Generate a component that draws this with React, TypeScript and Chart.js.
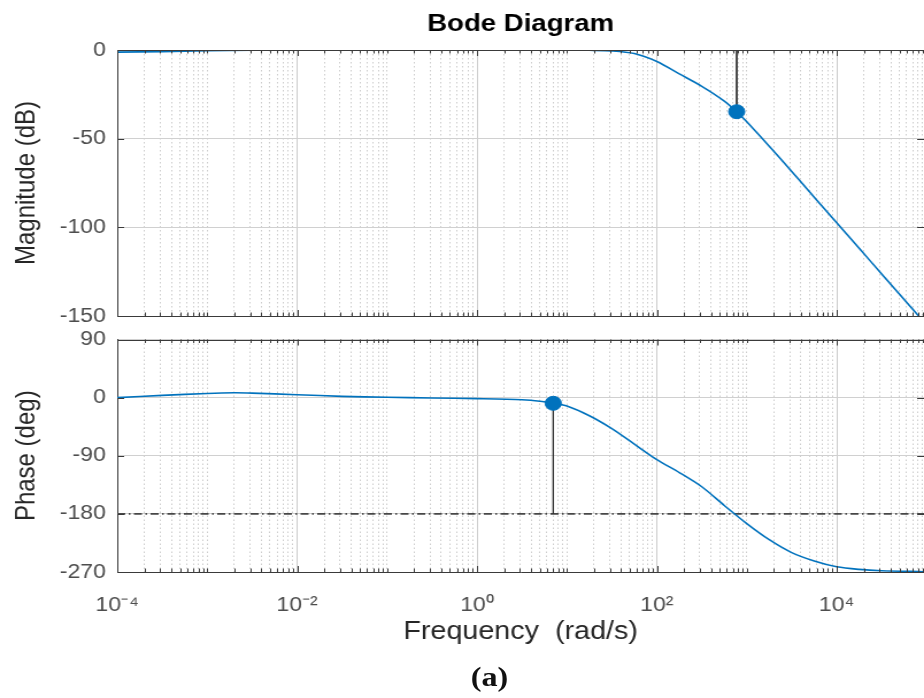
import React, { useEffect, useRef } from 'react';
import { Chart, registerables } from 'chart.js';

Chart.register(...registerables);

// ---------- data ----------
const FREQ_MIN = 1e-4;
const FREQ_MAX = 93500;

// magnitude curve: log10(frequency) and dB
const magLogFreq = [-4, -3.5, -3, -2.5, -2, -1, 0, 1, 1.25, 1.5, 1.75, 2.0, 2.25, 2.5, 2.75, 2.888, 3.0, 3.25, 3.5, 3.75, 4.0, 4.25, 4.5, 4.75, 4.97];
const magDb = [-1.2, -0.9, -0.4, -0.1, 0, 0, 0, -0.05, -0.15, -0.5, -2.0, -6.5, -13.5, -20.5, -28.8, -34.8, -40.5, -54.3, -68.5, -83, -97.4, -111.8, -126.3, -140.7, -153.4];

// phase curve: log10(frequency) and degrees
const phaseLogFreq = [-4, -3.5, -3, -2.7, -2.5, -2, -1.5, -1, -0.5, 0, 0.5, 0.7, 0.848, 1.0, 1.25, 1.5, 1.75, 2.0, 2.25, 2.5, 2.75, 3.0, 3.25, 3.5, 3.75, 4.0, 4.25, 4.5, 4.97];
const phaseDeg = [0, 3.5, 6.5, 7.5, 7, 4.5, 2, 0.5, -0.5, -1.5, -3.2, -5.5, -8.8, -13, -28, -48, -72, -96, -116, -138, -167, -195, -220, -240, -253, -262, -266, -268, -269.5];

// margin markers
const gainMarginFreq = [773];
const gainMarginMag = [-34.8];
const phaseMarginFreq = [7.05];
const phaseMarginDeg = [-8.8];
const phaseCrossLevel = [-180];

// ticks
const magTicks = [-150, -100, -50, 0];
const phaseTicks = [-270, -180, -90, 0, 90];
const xTickExponents = [-4, -2, 0, 2, 4];
const xTickLabels = ['10\u207B\u2074', '10\u207B\u00B2', '10\u2070', '10\u00B2', '10\u2074'];

// ---------- layout ----------
const W = 804;
const STRETCH = 924 / W;
const PLOT_LEFT = 102;
const FONT = '"Liberation Sans", Arial, Helvetica, sans-serif';
const BLUE = '#0072BD';
const AXIS = '#3a3a3a';
const TICK_COLOR = '#4d4d4d';
const LABEL_COLOR = '#262626';

function xTickObjects() {
  const out: any[] = [];
  for (let k = -4; k <= 5; k++) {
    for (let m = 1; m <= 9; m++) {
      const v = m * Math.pow(10, k);
      if (v < FREQ_MIN * 0.999 || v > FREQ_MAX) continue;
      out.push({ value: v, major: m === 1 && Math.abs(k % 2) === 0 });
    }
  }
  return out;
}

function xLabelFor(value: number) {
  const e = Math.log10(value);
  const r = Math.round(e);
  if (Math.abs(e - r) > 1e-6) return '';
  const i = xTickExponents.indexOf(r);
  return i >= 0 ? xTickLabels[i] : '';
}

const innerTicks = {
  id: 'innerTicks',
  afterDraw(chart: any) {
    const { ctx, chartArea: a, scales } = chart;
    const x = scales.x;
    const y = scales.y;
    ctx.save();
    ctx.strokeStyle = AXIS;
    ctx.lineWidth = 1;
    ctx.beginPath();
    ctx.moveTo(a.left, Math.round(a.top) + 0.5);
    ctx.lineTo(a.right, Math.round(a.top) + 0.5);
    for (const t of x.ticks) {
      const px = Math.round(x.getPixelForValue(t.value)) + 0.5;
      const len = t.major ? 6 : 3.5;
      ctx.moveTo(px, a.bottom);
      ctx.lineTo(px, a.bottom - len);
      ctx.moveTo(px, a.top);
      ctx.lineTo(px, a.top + len);
    }
    for (const t of y.ticks) {
      const py = Math.round(y.getPixelForValue(t.value)) + 0.5;
      ctx.moveTo(a.left, py);
      ctx.lineTo(a.left + 6, py);
      ctx.moveTo(a.right, py);
      ctx.lineTo(a.right - 6, py);
    }
    ctx.stroke();
    ctx.restore();
  },
};

function xScale(showLabels: boolean, height: number, title?: any) {
  return {
    type: 'logarithmic',
    min: FREQ_MIN,
    max: FREQ_MAX,
    afterBuildTicks: (scale: any) => {
      scale.ticks = xTickObjects();
    },
    afterFit: (scale: any) => {
      scale.height = height;
      scale.paddingLeft = 0;
      scale.paddingRight = 0;
    },
    ticks: {
      display: showLabels,
      autoSkip: false,
      maxRotation: 0,
      minRotation: 0,
      padding: 23,
      color: TICK_COLOR,
      font: { family: FONT, size: 20, lineHeight: 1 },
      callback: (v: any) => xLabelFor(Number(v)),
    },
    grid: {
      drawTicks: false,
      lineWidth: 1,
      color: (c: any) => (c.tick && c.tick.major ? '#cccccc' : '#cdcdcd'),
    },
    border: {
      display: true,
      color: AXIS,
      width: 1,
      dash: (c: any) => (c.tick && c.tick.major ? [] : [1.5, 2.5]),
    },
    title: title || { display: false },
  };
}

function yScale(min: number, max: number, ticks: number[], label: string) {
  return {
    type: 'linear',
    min,
    max,
    afterBuildTicks: (scale: any) => {
      scale.ticks = ticks.map((v) => ({ value: v }));
    },
    afterFit: (scale: any) => {
      scale.width = PLOT_LEFT;
      scale.paddingTop = 0;
      scale.paddingBottom = 0;
    },
    ticks: {
      padding: 10,
      color: TICK_COLOR,
      font: { family: FONT, size: 20, lineHeight: 0.1 },
    },
    grid: { drawTicks: false, color: '#d0d0d0', lineWidth: 1 },
    border: { display: true, color: AXIS, width: 1 },
    title: {
      display: true,
      text: label,
      color: LABEL_COLOR,
      font: { family: FONT, size: 24 },
      padding: { top: 9, bottom: 0 },
    },
  };
}

const lineStyle = { pointRadius: 0, showLine: true, fill: false };

function topConfig(): any {
  const curve = magLogFreq.map((e, i) => ({ x: Math.pow(10, e), y: magDb[i] }));
  return {
    type: 'scatter',
    data: {
      datasets: [
        {
          data: gainMarginFreq.map((f, i) => ({ x: f, y: gainMarginMag[i] })),
          pointRadius: 7,
          pointBackgroundColor: BLUE,
          pointBorderColor: BLUE,
          pointBorderWidth: 1,
          showLine: false,
        },
        {
          ...lineStyle,
          data: curve,
          borderColor: BLUE,
          borderWidth: 1.6,
          tension: 0.3,
        },
        {
          ...lineStyle,
          data: [
            { x: gainMarginFreq[0], y: 0 },
            { x: gainMarginFreq[0], y: gainMarginMag[0] },
          ],
          borderColor: '#333333',
          borderWidth: 1,
        },
      ],
    },
    options: {
      animation: false,
      responsive: false,
      events: [],
      layout: { autoPadding: false, padding: { top: 0, left: 0, right: 0, bottom: 0 } },
      plugins: {
        legend: { display: false },
        tooltip: { enabled: false },
        title: {
          display: true,
          text: 'Bode Diagram',
          fullSize: false,
          color: '#000',
          font: { family: FONT, size: 24, weight: 'bold' },
          padding: { top: 10.2, bottom: 11 },
        },
      },
      scales: {
        x: xScale(false, 12),
        y: yScale(-150, 0, magTicks, 'Magnitude (dB)'),
      },
    },
    plugins: [innerTicks],
  };
}

function bottomConfig(): any {
  const curve = phaseLogFreq.map((e, i) => ({ x: Math.pow(10, e), y: phaseDeg[i] }));
  return {
    type: 'scatter',
    data: {
      datasets: [
        {
          data: phaseMarginFreq.map((f, i) => ({ x: f, y: phaseMarginDeg[i] })),
          pointRadius: 7,
          pointBackgroundColor: BLUE,
          pointBorderColor: BLUE,
          pointBorderWidth: 1,
          showLine: false,
        },
        {
          ...lineStyle,
          data: curve,
          borderColor: BLUE,
          borderWidth: 1.6,
          tension: 0.3,
        },
        {
          ...lineStyle,
          data: [
            { x: phaseMarginFreq[0], y: phaseMarginDeg[0] },
            { x: phaseMarginFreq[0], y: phaseCrossLevel[0] },
          ],
          borderColor: '#333333',
          borderWidth: 1,
        },
        {
          ...lineStyle,
          data: [
            { x: FREQ_MIN, y: phaseCrossLevel[0] },
            { x: FREQ_MAX, y: phaseCrossLevel[0] },
          ],
          borderColor: '#474747',
          borderWidth: 1.6,
          borderDash: [7, 3, 1.5, 3],
        },
      ],
    },
    options: {
      animation: false,
      responsive: false,
      events: [],
      layout: { autoPadding: false, padding: { top: 11.5, left: 0, right: 0, bottom: 0 } },
      plugins: {
        legend: { display: false },
        tooltip: { enabled: false },
        title: { display: false },
      },
      scales: {
        x: xScale(true, 126, {
          display: true,
          text: 'Frequency  (rad/s)',
          color: LABEL_COLOR,
          font: { family: FONT, size: 25 },
          padding: { top: 0, bottom: 51 },
        }),
        y: yScale(-270, 90, phaseTicks, 'Phase (deg)'),
      },
    },
    plugins: [innerTicks],
  };
}

export default function App() {
  const topRef = useRef<HTMLCanvasElement>(null);
  const botRef = useRef<HTMLCanvasElement>(null);

  useEffect(() => {
    const top = new Chart(topRef.current as HTMLCanvasElement, topConfig());
    const bot = new Chart(botRef.current as HTMLCanvasElement, bottomConfig());
    return () => {
      top.destroy();
      bot.destroy();
    };
  }, []);

  return (
    <div
      style={{
        position: 'fixed',
        left: 0,
        top: 0,
        width: 924,
        height: 698,
        overflow: 'hidden',
        background: '#ffffff',
      }}
    >
      <div
        style={{
          position: 'absolute',
          left: 0,
          top: 0,
          width: W,
          height: 698,
          transform: `scaleX(${STRETCH})`,
          transformOrigin: '0 0',
        }}
      >
        <canvas ref={topRef} width={W} height={328} style={{ position: 'absolute', left: 0, top: 0 }} />
        <canvas ref={botRef} width={W} height={370} style={{ position: 'absolute', left: 0, top: 328 }} />
        <div
          style={{
            position: 'absolute',
            left: 386,
            top: 660,
            width: 80,
            textAlign: 'center',
            font: 'bold 28px "Liberation Serif", "Times New Roman", serif',
            lineHeight: '34px',
            color: '#111',
          }}
        >
          (a)
        </div>
      </div>
    </div>
  );
}
